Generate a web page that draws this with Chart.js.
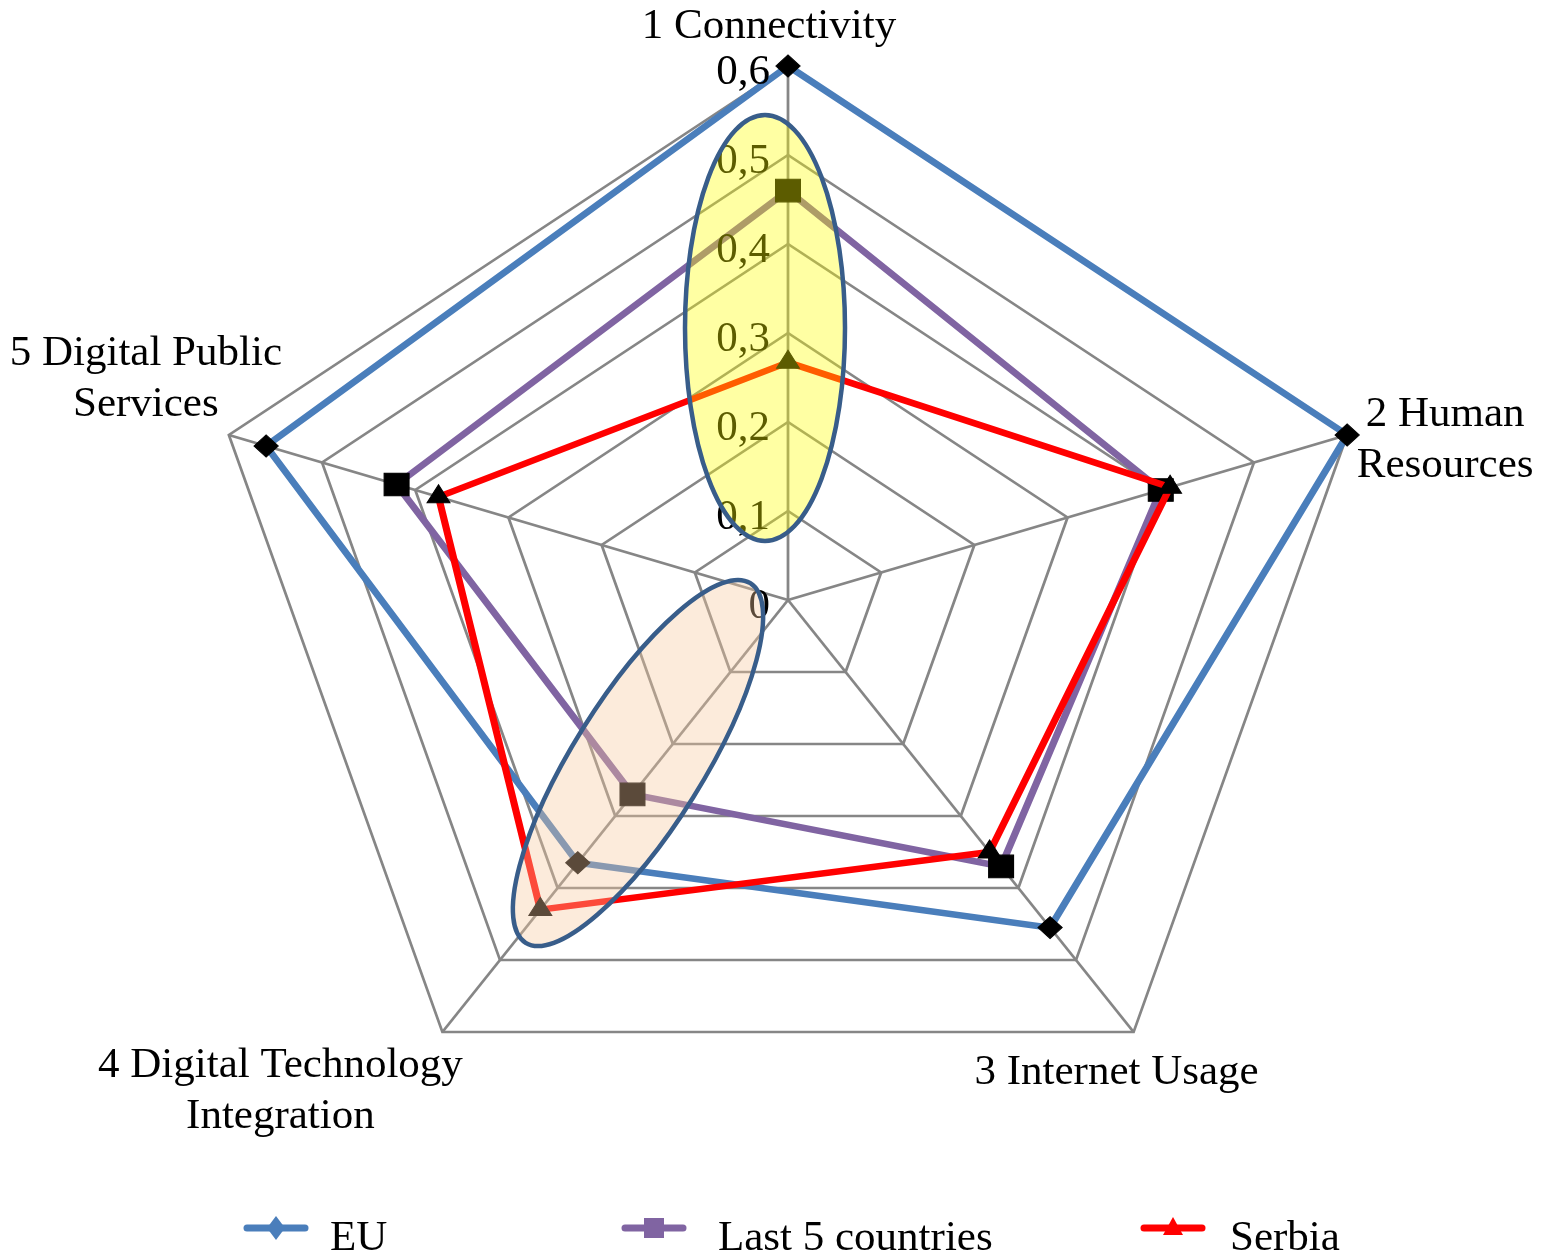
<!DOCTYPE html>
<html>
<head>
<meta charset="utf-8">
<title>DESI radar</title>
<script src="https://cdn.jsdelivr.net/npm/chart.js@4.4.1/dist/chart.umd.min.js"></script>
<style>
  html, body { margin: 0; padding: 0; background: #fff; }
  #wrap { position: relative; width: 1543px; height: 1254px; }
</style>
</head>
<body>
<div id="wrap"><canvas id="radarChart" width="1543" height="1254"></canvas></div>
<script>
// chart data
const categories = [
    ['1 Connectivity'],
    ['2 Human', 'Resources'],
    ['3 Internet Usage'],
    ['4 Digital Technology', 'Integration'],
    ['5 Digital Public', 'Services']
];
const seriesNames = ['EU', 'Last 5 countries', 'Serbia'];
const euValues = [0.60, 0.60, 0.455, 0.365, 0.56];
const last5Values = [0.46, 0.40, 0.37, 0.27, 0.42];
const serbiaValues = [0.267, 0.41, 0.35, 0.43, 0.375];
const tickLabels = ['0', '0,1', '0,2', '0,3', '0,4', '0,5', '0,6'];

const SX = 1.101;           // the original plot is a bit wider than tall
const REF_R = 534;          // radius the offsets below were measured at
const FONT = '43px "Liberation Serif", "Times New Roman", serif';

const colors = ['#4A7EBB', '#8064A2', '#FF0000'];
const markers = ['rectRot', 'rect', 'triangle'];

// label placement relative to the outer vertex (center x, first baseline)
const labelOffsets = [[-19, -28], [98, -9], [-17, 52], [-162, 45], [-83, -70]];

// highlight ellipses, offsets from the plot center
const highlights = [
    { dx: -23, dy: -272, rx: 80, ry: 213, rot: 0, fill: 'rgba(255, 255, 0, 0.36)' },
    { dx: -150, dy: 163, rx: 212, ry: 65, rot: -58, fill: 'rgba(247, 201, 156, 0.37)' }
];

// legend layout: line start x, text start x
const legendX = [243, 621, 1140];
const legendTextX = [330, 718, 1230];

function stretchX(s, x) {
    return s.xCenter + (x - s.xCenter) * SX;
}

function marker(ctx, style, x, y, size) {
    ctx.beginPath();
    if (style === 'rectRot') {
        ctx.moveTo(x, y - size);
        ctx.lineTo(x + size * 0.75, y);
        ctx.lineTo(x, y + size);
        ctx.lineTo(x - size * 0.75, y);
    } else if (style === 'rect') {
        ctx.rect(x - size, y - size, size * 2, size * 2);
    } else {
        ctx.moveTo(x, y - size * 1.1);
        ctx.lineTo(x + size, y + size * 0.7);
        ctx.lineTo(x - size, y + size * 0.7);
    }
    ctx.closePath();
    ctx.fill();
}

const stretchPlugin = {
    id: 'stretch',
    beforeDraw(chart) {
        const s = chart.scales.r;
        const ctx = chart.ctx;
        ctx.save();
        ctx.translate(s.xCenter, 0);
        ctx.scale(SX, 1);
        ctx.translate(-s.xCenter, 0);
    },
    afterDatasetsDraw(chart) {
        chart.ctx.restore();
    },
    afterDraw(chart) {
        const s = chart.scales.r;
        const ctx = chart.ctx;
        const k = s.drawingArea / REF_R;
        ctx.save();
        ctx.font = FONT;

        // tick labels, left of the first axis
        ctx.fillStyle = '#000';
        ctx.textAlign = 'right';
        ctx.textBaseline = 'middle';
        s.ticks.forEach((t, i) => {
            const d = s.getDistanceFromCenterForValue(t.value);
            ctx.fillText(t.label, s.xCenter - 18, s.yCenter - d + 7);
        });

        // highlight ellipses on top of the series
        highlights.forEach(h => {
            ctx.beginPath();
            ctx.ellipse(s.xCenter + h.dx * k, s.yCenter + h.dy * k, h.rx * k, h.ry * k,
                h.rot * Math.PI / 180, 0, Math.PI * 2);
            ctx.fillStyle = h.fill;
            ctx.fill();
            ctx.lineWidth = 4.5;
            ctx.strokeStyle = '#385D8A';
            ctx.stroke();
        });

        // category labels
        ctx.fillStyle = '#000';
        ctx.textAlign = 'center';
        ctx.textBaseline = 'alphabetic';
        chart.data.labels.forEach((lab, i) => {
            const p = s.getPointPosition(i, s.drawingArea);
            const x = stretchX(s, p.x) + labelOffsets[i][0] * k;
            const y = p.y + labelOffsets[i][1] * k;
            lab.forEach((line, j) => ctx.fillText(line, x, y + j * 51));
        });

        // legend
        ctx.textAlign = 'left';
        chart.data.datasets.forEach((ds, i) => {
            const x0 = legendX[i];
            ctx.strokeStyle = colors[i];
            ctx.fillStyle = colors[i];
            ctx.lineWidth = 7;
            ctx.lineCap = 'round';
            ctx.beginPath();
            ctx.moveTo(x0 + 4, 1228);
            ctx.lineTo(x0 + 62, 1228);
            ctx.stroke();
            marker(ctx, markers[i], x0 + 33, 1228, i === 0 ? 12 : 10);
            ctx.fillStyle = '#000';
            ctx.fillText(ds.label, legendTextX[i], 1250);
        });
        ctx.restore();
    }
};

const ctx = document.getElementById('radarChart');
new Chart(ctx, {
    type: 'radar',
    data: {
        labels: categories,
        datasets: [
            { label: seriesNames[0], data: euValues, borderColor: colors[0], pointStyle: 'rectRot', pointRadius: 11, order: 3 },
            { label: seriesNames[1], data: last5Values, borderColor: colors[1], pointStyle: 'rect', pointRadius: 16, order: 2 },
            { label: seriesNames[2], data: serbiaValues, borderColor: colors[2], pointStyle: 'triangle', pointRadius: 12, order: 1 }
        ].map(d => Object.assign(d, {
            borderWidth: 6.5,
            fill: false,
            tension: 0,
            clip: false,
            pointBackgroundColor: '#000',
            pointBorderColor: '#000',
            pointBorderWidth: 1
        }))
    },
    options: {
        responsive: false,
        devicePixelRatio: 1,
        animation: false,
        layout: { padding: { left: 254, right: 221, top: 66, bottom: 120 } },
        plugins: {
            legend: { display: false },
            tooltip: { enabled: false }
        },
        scales: {
            r: {
                min: 0,
                max: 0.6,
                ticks: {
                    stepSize: 0.1,
                    display: false,
                    callback: (v, i) => tickLabels[i]
                },
                pointLabels: { display: false },
                grid: { color: '#868686', lineWidth: 2.5 },
                angleLines: { color: '#868686', lineWidth: 2.5 }
            }
        }
    },
    plugins: [stretchPlugin]
});
</script>
</body>
</html>
